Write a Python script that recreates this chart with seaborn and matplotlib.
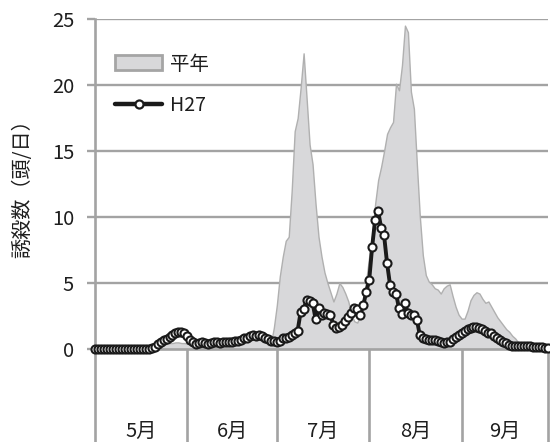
import numpy as np
import pandas as pd
import matplotlib
matplotlib.use("Agg")
import matplotlib.pyplot as plt
import seaborn as sns
from matplotlib.patches import Patch
from matplotlib.lines import Line2D

# ---------------- data ----------------
months = ["5月", "6月", "7月", "8月", "9月"]
month_days = [31, 30, 31, 31, 30]
yticks = [0, 5, 10, 15, 20, 25]
ylabel = "誘殺数（頭/日）"
label_normal = "平年"
label_h27 = "H27"

normal_may = [0, 0, 0, 0, 0, 0, 0, 0, 0, 0,
              0.05, 0.05, 0.05, 0.05, 0.05, 0.05, 0.1, 0.15, 0.2, 0.25,
              0.3, 0.35, 0.4, 0.4, 0.45, 0.45, 0.45, 0.5, 0.5, 0.45,
              0.45]
normal_jun = [0.4, 0.4, 0.45, 0.5, 0.5, 0.55, 0.6, 0.6, 0.65, 0.7,
              0.7, 0.75, 0.8, 0.8, 0.85, 0.9, 0.9, 0.85, 0.8, 0.8,
              0.75, 0.75, 0.8, 0.85, 0.9, 0.9, 0.7, 0.3, 0.4, 1.6]
normal_jul = [3.3, 5.5, 7.0, 8.2, 8.5, 12.0, 16.5, 17.5, 19.8, 22.4,
              19.0, 15.5, 14.0, 11.0, 8.5, 7.0, 5.8, 5.0, 4.3, 3.6,
              4.2, 5.0, 4.7, 4.2, 3.6, 2.6, 2.1, 2.0, 2.6, 3.8,
              5.2]
normal_aug = [7.0, 8.6, 11.0, 12.8, 13.8, 15.0, 16.3, 16.8, 17.2, 20.1,
              19.6, 21.5, 24.5, 24.0, 19.5, 18.2, 14.0, 10.0, 7.1, 5.6,
              5.1, 4.9, 4.6, 4.5, 4.2, 4.6, 4.8, 4.9, 4.0, 3.2,
              2.6]
normal_sep = [2.3, 2.3, 2.9, 3.7, 4.1, 4.3, 4.2, 3.8, 3.5, 3.6,
              3.2, 2.8, 2.4, 2.1, 1.8, 1.5, 1.3, 1.0, 0.8, 0.5,
              0.3, 0.2, 0.15, 0.1, 0.1, 0.1, 0.05, 0.05, 0.05, 0.05]

h27_may = [0, 0, 0, 0, 0, 0, 0, 0, 0, 0,
           0, 0, 0, 0, 0, 0, 0, 0, 0, 0.05,
           0.15, 0.4, 0.5, 0.65, 0.75, 0.9, 1.05, 1.2, 1.3, 1.3,
           1.2]
h27_jun = [0.95, 0.7, 0.5, 0.4, 0.45, 0.5, 0.45, 0.4, 0.45, 0.5,
           0.5, 0.45, 0.5, 0.55, 0.5, 0.55, 0.6, 0.6, 0.65, 0.8,
           0.85, 1.0, 1.05, 1.0, 1.05, 0.95, 0.85, 0.75, 0.6, 0.6]
h27_jul = [0.55, 0.6, 0.8, 0.85, 0.9, 1.05, 1.2, 1.4, 2.8, 3.0,
           3.7, 3.6, 3.5, 2.3, 3.1, 2.6, 2.7, 2.65, 2.6, 1.8,
           1.6, 1.7, 1.8, 2.1, 2.4, 2.7, 3.1, 3.0, 2.6, 3.3,
           4.3]
h27_aug = [5.2, 7.75, 9.8, 10.45, 9.2, 8.6, 6.5, 4.85, 4.3, 4.2,
           3.1, 2.65, 3.5, 2.7, 2.6, 2.6, 2.2, 1.05, 0.8, 0.75,
           0.7, 0.7, 0.7, 0.6, 0.5, 0.45, 0.5, 0.55, 0.75, 0.9,
           1.05]
h27_sep = [1.2, 1.35, 1.5, 1.6, 1.7, 1.65, 1.6, 1.5, 1.35, 1.25,
           1.2, 0.95, 0.8, 0.65, 0.55, 0.45, 0.3, 0.25, 0.2, 0.2,
           0.2, 0.2, 0.2, 0.2, 0.15, 0.15, 0.15, 0.15, 0.1, 0.05]

normal = normal_may + normal_jun + normal_jul + normal_aug + normal_sep
h27 = h27_may + h27_jun + h27_jul + h27_aug + h27_sep
days = np.arange(len(h27))
df = pd.DataFrame({"day": days, "normal": normal, "h27": h27})

# ---------------- style ----------------
sns.set_theme(style="white")
plt.rcParams["font.family"] = ["Noto Sans CJK JP", "DejaVu Sans"]

grid_c = "#a3a3a3"
fill_c = "#d8d8da"
edge_c = "#b0b0b0"
line_c = "#1a1a1a"
text_c = "#1e1e1e"

fig = plt.figure(figsize=(5.5, 4.42), dpi=100)
ax = fig.add_axes([95 / 550, 1 - 349 / 442, 453 / 550, 330 / 442])

ax.fill_between(df["day"], 0, df["normal"], facecolor=fill_c,
                edgecolor=edge_c, linewidth=1.0, zorder=2)
sns.lineplot(data=df, x="day", y="h27", ax=ax, color=line_c,
             linewidth=2.8, marker="o", markersize=5.8,
             markerfacecolor="white", markeredgecolor=line_c,
             markeredgewidth=1.5, zorder=3, legend=False, clip_on=False)

ax.set_xlim(0, len(h27) - 1)
ax.set_ylim(0, 25)
ax.set_yticks(yticks)
ax.set_yticklabels([str(v) for v in yticks])
ax.set_xticks([])
ax.set_xlabel("")
ax.set_ylabel(ylabel, fontsize=14.5, labelpad=13, color=text_c)
ax.set_axisbelow(True)
ax.yaxis.grid(True, color=grid_c, linewidth=1.7)
ax.xaxis.grid(False)

for s in ["top", "right"]:
    ax.spines[s].set_visible(False)
for s in ["left", "bottom"]:
    ax.spines[s].set_color(grid_c)
    ax.spines[s].set_linewidth(1.9)
ax.tick_params(axis="y", left=True, length=6, width=1.7, color=grid_c,
               labelsize=14.5, pad=9, labelcolor=text_c)

# month dividers below the axis and month labels
starts = np.concatenate([[0], np.cumsum(month_days)[:-1]])
bounds = list(starts) + [len(h27) - 1]
xtr = ax.get_xaxis_transform()
for b in bounds:
    ax.plot([b, b], [0, -0.32], transform=xtr, color=grid_c,
            linewidth=1.9, clip_on=False, zorder=1)
for i, m in enumerate(months):
    c = (bounds[i] + bounds[i + 1]) / 2
    ax.text(c, -0.25, m, transform=xtr, ha="center", va="center",
            fontsize=14.5, color=text_c)

# legend
handles = [
    Patch(facecolor=fill_c, edgecolor="#a5a5a5", linewidth=2.0),
    Line2D([0], [0], color=line_c, linewidth=3.2, marker="o",
           markersize=5.8, markerfacecolor="white",
           markeredgecolor=line_c, markeredgewidth=1.6),
]
leg = ax.legend(handles, [label_normal, label_h27], loc="upper left",
                bbox_to_anchor=(0.045, 0.895), frameon=False, fontsize=14,
                handlelength=2.4, handleheight=0.8, handletextpad=0.4,
                labelspacing=1.05, borderpad=0, borderaxespad=0)
for t in leg.get_texts():
    t.set_color(text_c)

fig.savefig("out.png", dpi=100)
